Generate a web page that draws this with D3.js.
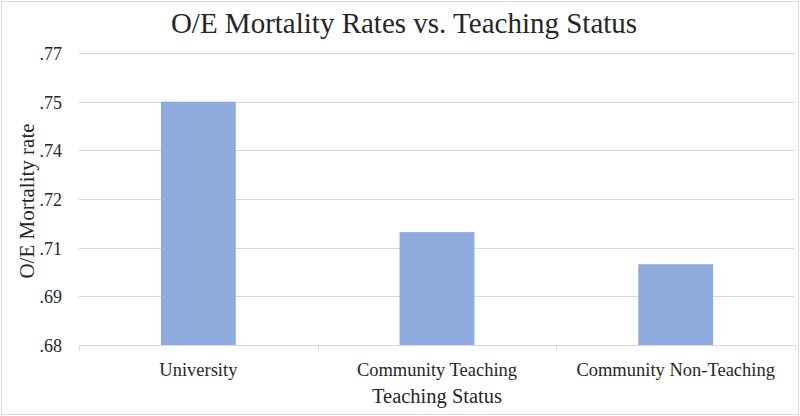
<!DOCTYPE html>
<html>
<head>
<meta charset="utf-8">
<script src="https://cdn.jsdelivr.net/npm/d3@7"></script>
<style>
  body { margin: 0; background: #fff; }
  svg text { font-family: "Liberation Serif", "Times New Roman", serif; fill: #262626; }
</style>
</head>
<body>
<div id="chart"></div>
<script>
// data
var categories = ["University", "Community Teaching", "Community Non-Teaching"];
var rates = [0.755, 0.7148, 0.7049];
var tickValues = [0.68, 0.695, 0.71, 0.725, 0.74, 0.755, 0.77];
var tickLabels = [".68", ".69", ".71", ".72", ".74", ".75", ".77"];

var W = 800, H = 416;
var margin = {top: 53, right: 5, bottom: 71, left: 79},
    width = W - margin.left - margin.right,
    height = H - margin.top - margin.bottom;

var root = d3.select("#chart").append("svg")
  .attr("width", W)
  .attr("height", H);

// outer frame
root.append("rect")
  .attr("x", 1.5).attr("y", 1.5)
  .attr("width", W - 3).attr("height", H - 3)
  .attr("fill", "#fff")
  .attr("stroke", "#d9d9d9");

var svg = root.append("g")
  .attr("transform", "translate(" + margin.left + "," + margin.top + ")");

var x = d3.scaleBand()
  .domain(categories)
  .range([0, width])
  .paddingInner(0)
  .paddingOuter(0);

var y = d3.scaleLinear()
  .domain([0.68, 0.77])
  .range([height, 0]);

// gridlines
svg.selectAll(".grid")
  .data(tickValues.slice(1))
  .enter()
  .append("line")
    .attr("class", "grid")
    .attr("x1", 0).attr("x2", width)
    .attr("y1", function(d) { return Math.round(y(d)) + 0.5; })
    .attr("y2", function(d) { return Math.round(y(d)) + 0.5; })
    .attr("stroke", "#d9d9d9")
    .attr("stroke-width", 1);

// y axis labels
var yAxis = svg.append("g")
  .call(d3.axisLeft(y)
    .tickValues(tickValues)
    .tickSize(0)
    .tickPadding(17)
    .tickFormat(function(d, i) { return tickLabels[i]; }));
yAxis.select(".domain").remove();
yAxis.selectAll("text")
  .attr("font-size", "18px")
  .attr("dy", "0.36em")
  .attr("fill", "#262626");

// bars (gap width ~219%)
var barW = x.bandwidth() / 3.19;
svg.selectAll(".bar")
  .data(rates)
  .enter()
  .append("rect")
    .attr("class", "bar")
    .attr("x", function(d, i) { return x(categories[i]) + (x.bandwidth() - barW) / 2; })
    .attr("width", barW)
    .attr("y", function(d) { return y(d); })
    .attr("height", function(d) { return height - y(d); })
    .attr("fill", "#8faadc");

// x axis
var xAxis = svg.append("g")
  .attr("transform", "translate(0," + (Math.round(height) + 0.5) + ")")
  .call(d3.axisBottom(x).tickSize(0).tickPadding(17));
xAxis.select(".domain")
  .attr("stroke", "#d9d9d9")
  .attr("d", "M0,0H" + width);
xAxis.selectAll("text")
  .attr("font-size", "18.5px")
  .attr("fill", "#262626");

// band boundary ticks
var bounds = categories.map(function(c) { return x(c); }).concat([width]);
xAxis.selectAll(".sep")
  .data(bounds)
  .enter()
  .append("line")
    .attr("class", "sep")
    .attr("x1", function(d) { return Math.round(d) + 0.5; })
    .attr("x2", function(d) { return Math.round(d) + 0.5; })
    .attr("y1", 0).attr("y2", 5)
    .attr("stroke", "#d9d9d9");

// title
root.append("text")
  .attr("x", W / 2 + 4)
  .attr("y", 33)
  .attr("text-anchor", "middle")
  .attr("font-size", "29px")
  .text("O/E Mortality Rates vs. Teaching Status");

// axis titles
root.append("text")
  .attr("x", margin.left + width / 2)
  .attr("y", 403)
  .attr("text-anchor", "middle")
  .attr("font-size", "20.5px")
  .text("Teaching Status");

root.append("text")
  .attr("transform", "translate(34," + (margin.top + height / 2 + 2) + ") rotate(-90)")
  .attr("text-anchor", "middle")
  .attr("font-size", "21px")
  .text("O/E Mortality rate");
</script>
</body>
</html>
